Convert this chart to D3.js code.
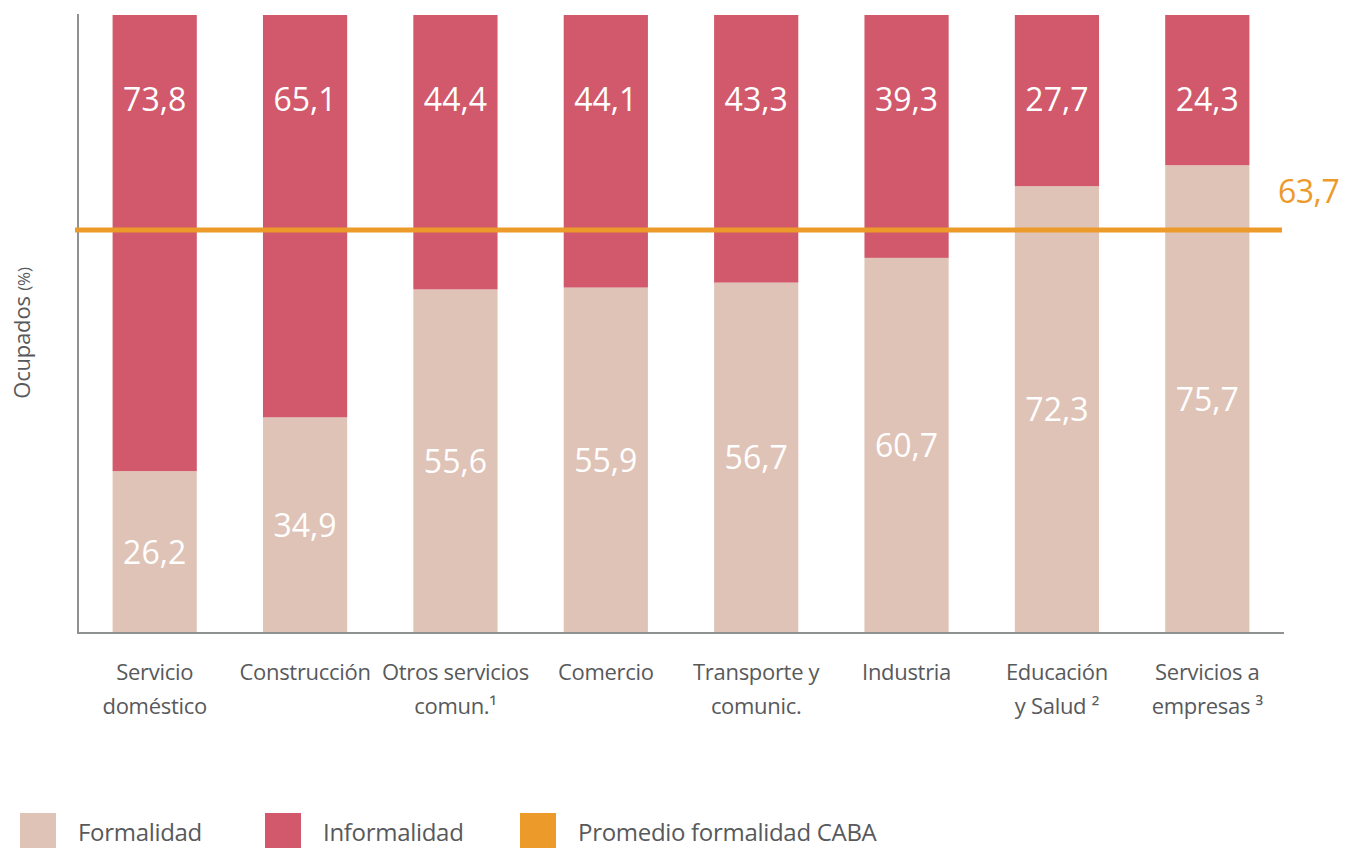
<!DOCTYPE html>
<html><head><meta charset="utf-8">
<script src="https://cdn.jsdelivr.net/npm/d3@7"></script>
<style>body{margin:0;background:#fff;} svg{display:block;}</style>
</head><body>
<svg id="chart" width="1364" height="848"></svg>
<script>
const categories = [
  ["Servicio", "doméstico"],
  ["Construcción"],
  ["Otros servicios", "comun.¹"],
  ["Comercio"],
  ["Transporte y", "comunic."],
  ["Industria"],
  ["Educación", "y Salud ²"],
  ["Servicios a", "empresas ³"]
];
const formalidad   = [26.2, 34.9, 55.6, 55.9, 56.7, 60.7, 72.3, 75.7];
const informalidad = [73.8, 65.1, 44.4, 44.1, 43.3, 39.3, 27.7, 24.3];
const promedioLabel = "63,7";
const promedioLinea = 65.2; // level at which the line is drawn in the picture
const legendLabels = ["Formalidad", "Informalidad", "Promedio formalidad CABA"];

const colFormal = "#e0c3b7", colInformal = "#d1596b", colAvg = "#ec9a2a";
const textCol = "#58595b", axisCol = "#8e9290";
const font = "'Open Sans', sans-serif";
const fmt = v => d3.format(".1f")(v).replace(".", ",");

const svg = d3.select("#chart");
const mLeft = 78, mRight = 1284, mTop = 15, mBottom = 633;

const x = d3.scaleBand().domain(d3.range(categories.length)).range([mLeft, mRight]).paddingInner(0.44).paddingOuter(0.23);
const y = d3.scaleLinear().domain([0, 100]).range([mBottom, mTop]);

// bars
const g = svg.append("g");
categories.forEach((c, i) => {
  g.append("rect").attr("x", x(i)).attr("width", x.bandwidth())
    .attr("y", y(formalidad[i])).attr("height", y(0) - y(formalidad[i])).attr("fill", colFormal);
  g.append("rect").attr("x", x(i)).attr("width", x.bandwidth())
    .attr("y", y(formalidad[i] + informalidad[i])).attr("height", y(formalidad[i]) - y(formalidad[i] + informalidad[i])).attr("fill", colInformal);
  g.append("text").attr("x", x(i) + x.bandwidth() / 2).attr("y", y(formalidad[i] / 2))
    .attr("dy", "0.36em").attr("text-anchor", "middle").attr("fill", "#fff")
    .style("font-family", font).style("font-size", "32px").text(fmt(formalidad[i]));
  g.append("text").attr("x", x(i) + x.bandwidth() / 2).attr("y", y(86.4))
    .attr("dy", "0.36em").attr("text-anchor", "middle").attr("fill", "#fff")
    .style("font-family", font).style("font-size", "32px").text(fmt(informalidad[i]));
});

// axes
svg.append("line").attr("x1", mLeft).attr("x2", mLeft).attr("y1", mTop - 1).attr("y2", mBottom + 1)
  .attr("stroke", axisCol).attr("stroke-width", 2);
svg.append("line").attr("x1", mLeft - 1).attr("x2", mRight).attr("y1", mBottom).attr("y2", mBottom)
  .attr("stroke", axisCol).attr("stroke-width", 2);

// average line
svg.append("line").attr("x1", mLeft - 3).attr("x2", mRight - 2).attr("y1", y(promedioLinea)).attr("y2", y(promedioLinea))
  .attr("stroke", colAvg).attr("stroke-width", 5);
svg.append("text").attr("x", 1278).attr("y", y(promedioLinea) - 27).attr("fill", colAvg)
  .style("font-family", font).style("font-size", "32px").attr("letter-spacing", "-0.5").text(promedioLabel);

// category labels
categories.forEach((lines, i) => {
  const t = svg.append("text").attr("text-anchor", "middle").attr("fill", textCol)
    .style("font-family", font).style("font-size", "22px").attr("letter-spacing", "-0.3");
  lines.forEach((l, k) => {
    t.append("tspan").attr("x", x(i) + x.bandwidth() / 2).attr("y", 680 + k * 34).text(l);
  });
});

// y title
const yt = svg.append("text").attr("transform", "translate(30,333) rotate(-90)").attr("text-anchor", "middle")
  .attr("fill", textCol).style("font-family", font).style("font-size", "22px").attr("letter-spacing", "-0.2");
yt.append("tspan").text("Ocupados ");
yt.append("tspan").style("font-size", "17px").text("(%)");

// legend
const legCols = [colFormal, colInformal, colAvg];
const legX = [20, 265, 520];
legendLabels.forEach((l, i) => {
  svg.append("rect").attr("x", legX[i]).attr("y", 813).attr("width", 36).attr("height", 36).attr("fill", legCols[i]);
  svg.append("text").attr("x", legX[i] + 58).attr("y", 841).attr("fill", textCol)
    .style("font-family", font).style("font-size", "24px").attr("letter-spacing", "-0.3").text(l);
});
</script>
</body></html>
